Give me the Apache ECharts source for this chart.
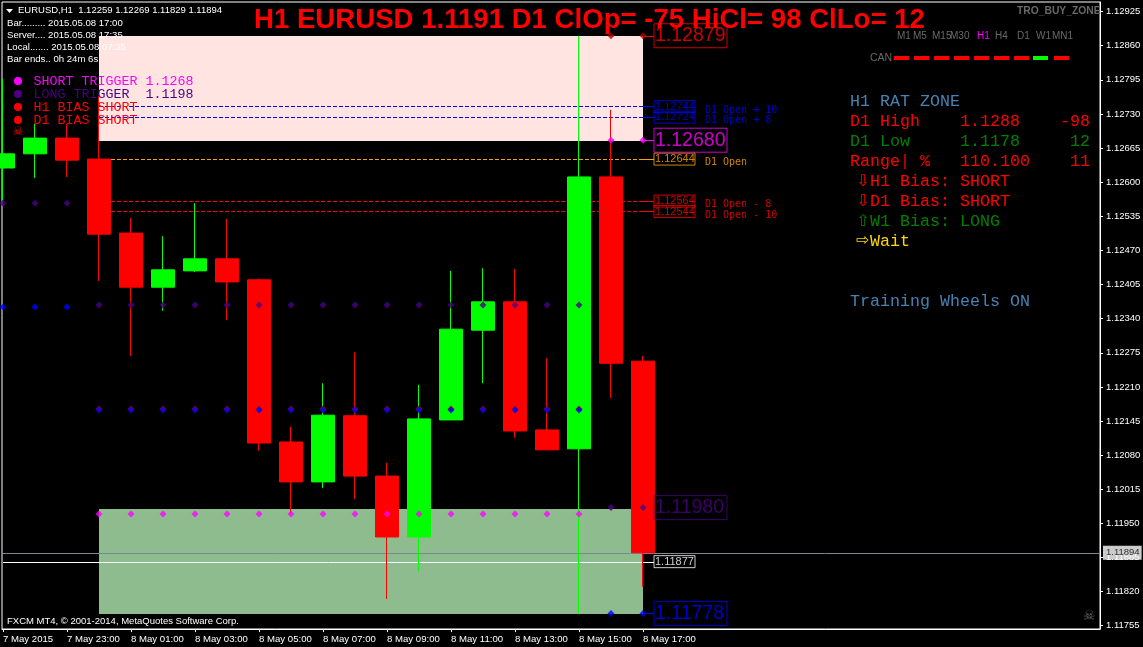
<!DOCTYPE html>
<html><head><meta charset="utf-8">
<style>html,body{margin:0;padding:0;background:#000;width:1143px;height:647px;overflow:hidden}#c{width:1143px;height:647px}</style>
<script src="https://cdn.jsdelivr.net/npm/echarts@6/dist/echarts.min.js"></script>
</head><body><div id="c"></div>
<script>
// [bar index, open, close, low, high]
const candles = [
 [0,1.12627,1.12654,1.12566,1.12797],
 [1,1.12654,1.12684,1.12608,1.12711],
 [2,1.12684,1.12642,1.12610,1.12711],
 [3,1.12644,1.12501,1.12412,1.12764],
 [4,1.12503,1.12400,1.12269,1.12532],
 [5,1.12400,1.12433,1.12355,1.12497],
 [6,1.12431,1.12454,1.12429,1.12560],
 [7,1.12454,1.12410,1.12337,1.12530],
 [8,1.12414,1.12103,1.12088,1.12416],
 [9,1.12105,1.12029,1.11968,1.12134],
 [10,1.12029,1.12156,1.12017,1.12217],
 [11,1.12155,1.12040,1.11996,1.12276],
 [12,1.12040,1.11924,1.11806,1.12065],
 [13,1.11924,1.12149,1.11859,1.12214],
 [14,1.12147,1.12320,1.12147,1.12431],
 [15,1.12318,1.12372,1.12217,1.12436],
 [16,1.12372,1.12126,1.12113,1.12435],
 [17,1.12128,1.12090,1.12090,1.12265],
 [18,1.12092,1.12610,1.11778,1.12879],
 [19,1.12610,1.12255,1.12189,1.12738],
 [20,1.12259,1.11894,1.11829,1.12269]
];
const priceTicks = [1.12925,1.12860,1.12795,1.12730,1.12665,1.12600,1.12535,1.12470,1.12405,1.12340,1.12275,1.12210,1.12145,1.12080,1.12015,1.11950,1.11885,1.11820,1.11755];
const timeTicks = [0,2,4,6,8,10,12,14,16,18,20];
const timeLabels = ['7 May 2015','7 May 23:00','8 May 01:00','8 May 03:00','8 May 05:00','8 May 07:00','8 May 09:00','8 May 11:00','8 May 13:00','8 May 15:00','8 May 17:00'];
const bidPrice = 1.11894;
const shortZone = [1.128785,1.126785];
const longZone = [1.119775,1.117773];
const levelPrices = [1.12744,1.12724,1.12644,1.12564,1.12544];
const levelColors = ['#0000ff','#0000ff','#ffa500','#ff0000','#ff0000'];
const levelNames = ['D1 Open + 10','D1 Open + 8','D1 Open','D1 Open - 8','D1 Open - 10'];
const bigTags = [[1.12879,'#ff0000'],[1.12680,'#ff00ff'],[1.11980,'#4b0082'],[1.11778,'#0000ff']];
const currentLevel = 1.11877;
const currentLine = 1.11876;
const redDots = [[3,1.12168],[4,1.12168],[5,1.12168],[6,1.12168],[7,1.12168],[8,1.12168],[9,1.12168],[10,1.12168],[11,1.12168],[12,1.12168],[13,1.12168],[14,1.12168],[15,1.12168],[16,1.12168],[17,1.12168],[18,1.12168],[19,1.12879],[20,1.12879]];
const magentaDots = [[3,1.11968],[4,1.11968],[5,1.11968],[6,1.11968],[7,1.11968],[8,1.11968],[9,1.11968],[10,1.11968],[11,1.11968],[12,1.11968],[13,1.11968],[14,1.11968],[15,1.11968],[16,1.11968],[17,1.11968],[18,1.11968],[19,1.12680],[20,1.12680]];
const indigoDots = [[0,1.12560],[1,1.12560],[2,1.12560],[3,1.12366],[4,1.12366],[5,1.12366],[6,1.12366],[7,1.12366],[8,1.12366],[9,1.12366],[10,1.12366],[11,1.12366],[12,1.12366],[13,1.12366],[14,1.12366],[15,1.12366],[16,1.12366],[17,1.12366],[18,1.12366],[19,1.11980],[20,1.11980]];
const blueDots = [[0,1.12362],[1,1.12362],[2,1.12362],[3,1.12166],[4,1.12166],[5,1.12166],[6,1.12166],[7,1.12166],[8,1.12166],[9,1.12166],[10,1.12166],[11,1.12166],[12,1.12166],[13,1.12166],[14,1.12166],[15,1.12166],[16,1.12166],[17,1.12166],[18,1.12166],[19,1.11778],[20,1.11778]];
const titleText = 'H1 EURUSD 1.1191 D1 ClOp= -75 HiCl= 98 ClLo= 12';
const infoLines = ['Bar......... 2015.05.08 17:00','Server.... 2015.05.08 17:35','Local....... 2015.05.08 07:35','Bar ends.. 0h 24m 6s'];
const legendLines = [['SHORT TRIGGER 1.1268','#ff00ff'],['LONG TRIGGER  1.1198','#4b0082'],['H1 BIAS SHORT','#ff0000'],['D1 BIAS SHORT','#ff0000']];
const periods = [['M1',897],['M5',913],['M15',932],['M30',950],['H1',977],['H4',995],['D1',1017],['W1',1036],['MN1',1052]];
const canColors = ['#ff0000','#ff0000','#ff0000','#ff0000','#ff0000','#ff0000','#ff0000','#00ff00','#ff0000'];
const panelRows = [
 ['H1 RAT ZONE',850,102,'#4682b4'],
 ['D1 High',850,122,'#ff0000'],['1.1288',960,122,'#ff0000'],
 ['D1 Low',850,142,'#008000'],['1.1178',960,142,'#008000'],
 ['Range| %',850,162,'#ff0000'],['110.100',960,162,'#ff0000'],
 ['H1 Bias:',870,182,'#ff0000'],['SHORT',960,182,'#ff0000'],
 ['D1 Bias:',870,202,'#ff0000'],['SHORT',960,202,'#ff0000'],
 ['W1 Bias:',870,222,'#008000'],['LONG',960,222,'#008000'],
 ['Wait',870,242,'#ffd700'],
 ['Training Wheels ON',850,302,'#4682b4']
];
const panelRight = [['-98',122,'#ff0000'],['12',142,'#008000'],['11',162,'#ff0000']];
const panelArrows = [['\u21e9',863,182,'#ff0000'],['\u21e9',863,202,'#ff0000'],['\u21e7',863,222,'#008000'],['\u21e8',863,241,'#ffd700']];

const TAG_X = 20.34375, NOTE_X = 21.9375, X_MIN = -0.03125, X_MAX = 34.28125;
const MONO = '"Liberation Mono"';
const UI = '"Liberation Sans"';

function txt(text,x,y,fill,font,align){
  return {type:'text',z:100,silent:true,style:{text,x,y,fill,font,textAlign:align||'left',textVerticalAlign:'middle'}};
}
const g = [];
g.push(txt(titleText,254,20,'#ff0000','bold 27.6px "Liberation Sans"'));
g.push(txt('TRO_BUY_ZONE',1017,11,'#696969','bold 10.3px '+UI));
g.push({type:'polygon',z:100,silent:true,shape:{points:[[6,9],[13,9],[9.5,13]]},style:{fill:'#fff'}});
g.push(txt('EURUSD,H1  1.12259 1.12269 1.11829 1.11894',18,10.5,'#fff','9.5px '+UI));
infoLines.forEach((t,i)=>g.push(txt(t,7,23.5+12*i,'#fff','9.6px '+UI)));
legendLines.forEach((l,i)=>{
  g.push({type:'circle',z:100,silent:true,shape:{cx:18,cy:81+13*i,r:4},style:{fill:l[1]}});
  g.push(txt(l[0],33.5,81+13*i,l[1],'13.33px '+MONO));
});
g.push(txt('\u2620',18,132,'#ff0000','12px "DejaVu Sans"','center'));
periods.forEach(p=>g.push(txt(p[0],p[1],36,p[0]==='H1'?'#ff00ff':'#696969','10px '+UI)));
g.push(txt('CAN',870,58,'#696969','10.5px '+UI));
canColors.forEach((c,i)=>g.push({type:'rect',z:100,silent:true,shape:{x:894+20*i-(i>6?1:0)+(i>7?1:0),y:56,width:15,height:4},style:{fill:c}}));
panelRows.forEach(r=>g.push(txt(r[0],r[1],r[2],r[3],'16.67px '+MONO)));
panelRight.forEach(r=>g.push(txt(r[0],1090,r[1],r[2],'16.67px '+MONO,'right')));
panelArrows.forEach(r=>g.push(txt(r[0],r[1],r[2],r[3],'16px "DejaVu Sans"','center')));
g.push(txt('FXCM MT4, \u00a9 2001-2014, MetaQuotes Software Corp.',7,621,'#fff','9.5px '+UI));
g.push(txt('\u2620',1089,616,'#696969','14px "DejaVu Sans"','center'));

// horizontal level segment snapped to the pixel grid; the position comes from the axes
const lineSeries = (name,x0,x1,price,color,dash,z) => ({name,type:'custom',silent:true,z:z||3,animation:false,clip:true,
  data:[[x0,x1,price]],encode:{x:[0,1],y:2},
  renderItem:(params,api)=>{
    const a=api.coord([api.value(0),api.value(2)]), b=api.coord([api.value(1),api.value(2)]);
    const y=Math.round(a[1]-0.2)+0.5;
    return {type:'line',shape:{x1:a[0],y1:y,x2:b[0],y2:y},style:{stroke:color,lineWidth:1,lineDash:dash||null}};
  }});
const dotSeries = (name,data,color,z) => ({name,type:'scatter',data,symbol:'diamond',symbolSize:7,silent:true,z:z||7,animation:false,itemStyle:{color}});
const tagSeries = (price,color,w,h,size,font) => ({type:'scatter',data:[[TAG_X,price]],symbolSize:0,silent:true,z:8,animation:false,
  label:{show:true,position:'right',distance:0,formatter:()=>price.toFixed(5),color,fontFamily:font,fontSize:size,width:w,height:h,lineHeight:h,
    verticalAlign:'middle',borderColor:color,borderWidth:1,padding:[0,0,0,1]}});

const series = [];
series.push({type:'line',data:[],z:1,silent:true,animation:false,markArea:{silent:true,
  itemStyle:{opacity:1},data:[
   [{coord:[3,shortZone[0]],itemStyle:{color:'#ffe4e1'}},{coord:[20,shortZone[1]]}],
   [{coord:[3,longZone[0]],itemStyle:{color:'#8fbc8f'}},{coord:[20,longZone[1]]}]
  ]}});
levelPrices.forEach((p,i)=>{
  series.push(lineSeries('level'+i,3,20,p,levelColors[i],[4,2]));
  series.push(lineSeries('stub'+i,20,TAG_X,p,levelColors[i]));
  series.push(tagSeries(p,levelColors[i],40,12,11,UI));
  series.push({type:'scatter',data:[[NOTE_X,p]],symbolSize:0,silent:true,z:8,animation:false,
    label:{show:true,position:'right',distance:0,offset:[0,3.5],formatter:()=>levelNames[i],color:levelColors[i],fontFamily:'"DejaVu Sans Mono"',fontSize:10}});
});
bigTags.forEach(t=>{
  series.push(lineSeries('big',20,TAG_X,t[0],t[1]));
  series.push(tagSeries(t[0],t[1],72,24,19.5,UI));
});
series.push(lineSeries('current',0,TAG_X,currentLine,'#ffffff'));
series.push(tagSeries(currentLevel,'#ffffff',40,12,11,UI));
series.push(lineSeries('bid',X_MIN,X_MAX,bidPrice,'#778899',null,4));
series.push({type:'scatter',data:[[X_MAX,bidPrice]],symbolSize:0,silent:true,z:9,animation:false,
  label:{show:true,position:'right',distance:3,formatter:()=>bidPrice.toFixed(5),color:'#000',backgroundColor:'#fff',fontFamily:UI,fontSize:9.5,padding:[2,2,2,3]}});
series.push({name:'EURUSD',type:'candlestick',data:candles,barWidth:24,z:5,silent:true,animation:false,
  itemStyle:{color:'#00ff00',color0:'#ff0000',borderColor:'#00ff00',borderColor0:'#ff0000',borderWidth:1}});
series.push(dotSeries('red',redDots,'#b00000',6));
series.push(dotSeries('indigo',indigoDots,'#4b0082'));
series.push(dotSeries('blue',blueDots,'#0000ff'));
series.push(dotSeries('magenta',magentaDots,'#ff00ff'));

const chart = echarts.init(document.getElementById('c'),null,{renderer:'canvas'});
chart.setOption({
  backgroundColor:'#000',animation:false,
  grid:{left:2,top:2,right:43,bottom:18,show:true,borderColor:'#fff',borderWidth:1,backgroundColor:'#000',outerBoundsMode:'none'},
  xAxis:{type:'value',min:X_MIN,max:X_MAX,position:'bottom',
    axisLine:{onZero:false,lineStyle:{color:'#fff'}},splitLine:{show:false},
    axisTick:{customValues:timeTicks,length:3,lineStyle:{color:'#fff'}},
    axisLabel:{customValues:timeTicks,formatter:v=>timeLabels[timeTicks.indexOf(v)],color:'#fff',fontFamily:UI,fontSize:9.6,align:'left',margin:5}},
  yAxis:{type:'value',min:1.117487,max:1.129433,position:'right',scale:true,
    axisLine:{show:true,onZero:false,lineStyle:{color:'#fff'}},splitLine:{show:false},
    axisTick:{show:true,customValues:priceTicks,length:3,lineStyle:{color:'#fff'}},
    axisLabel:{customValues:priceTicks,formatter:v=>v.toFixed(5),color:'#fff',fontFamily:UI,fontSize:9.5,margin:6}},
  series,
  graphic:g
});
</script></body></html>
